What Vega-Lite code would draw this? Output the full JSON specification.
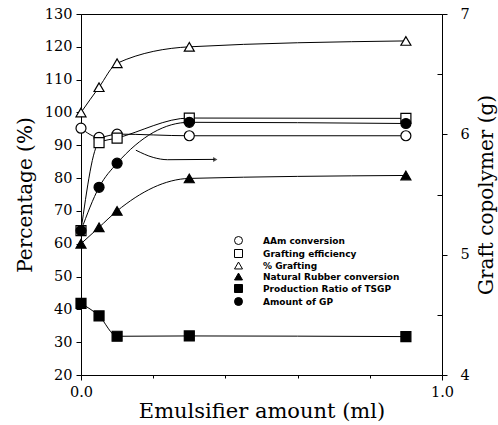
{
  "$schema": "https://vega.github.io/schema/vega-lite/v6.json",
  "width": 361,
  "height": 361,
  "autosize": "none",
  "padding": {"left": 81, "top": 14, "right": 56, "bottom": 50},
  "background": "white",
  "config": {
    "view": {"stroke": "black", "strokeWidth": 1},
    "axis": {
      "domainColor": "black", "tickColor": "black", "labelColor": "black", "titleColor": "black",
      "labelFont": "DejaVu Serif", "titleFont": "DejaVu Serif", "labelFontSize": 14.5, "titleFontSize": 20,
      "titleFontWeight": "normal", "grid": false, "domainWidth": 1, "tickWidth": 1
    },
    "legend": {
      "title": null, "orient": "none", "legendX": 153, "legendY": 222,
      "symbolSize": 64, "labelOffset": 20, "labelFont": "DejaVu Sans", "labelFontSize": 9, "labelFontWeight": "bold", "labelColor": "black",
      "rowPadding": 0, "symbolStrokeWidth": 1
    }
  },
  "datasets": {
    "main": [
      {"x": 0, "v": 95.2, "series": "AAm conversion"},
      {"x": 0.05, "v": 92.4, "series": "AAm conversion"},
      {"x": 0.1, "v": 93.4, "series": "AAm conversion"},
      {"x": 0.3, "v": 92.9, "series": "AAm conversion"},
      {"x": 0.9, "v": 92.9, "series": "AAm conversion"},
      {"x": 0, "v": 64, "series": "Grafting efficiency"},
      {"x": 0.05, "v": 90.8, "series": "Grafting efficiency"},
      {"x": 0.1, "v": 92.2, "series": "Grafting efficiency"},
      {"x": 0.3, "v": 98.3, "series": "Grafting efficiency"},
      {"x": 0.9, "v": 98.2, "series": "Grafting efficiency"},
      {"x": 0, "v": 100, "series": "% Grafting"},
      {"x": 0.05, "v": 107.7, "series": "% Grafting"},
      {"x": 0.1, "v": 115, "series": "% Grafting"},
      {"x": 0.3, "v": 120, "series": "% Grafting"},
      {"x": 0.9, "v": 121.8, "series": "% Grafting"},
      {"x": 0, "v": 60, "series": "Natural Rubber conversion"},
      {"x": 0.05, "v": 65, "series": "Natural Rubber conversion"},
      {"x": 0.1, "v": 70, "series": "Natural Rubber conversion"},
      {"x": 0.3, "v": 79.9, "series": "Natural Rubber conversion"},
      {"x": 0.9, "v": 80.8, "series": "Natural Rubber conversion"},
      {"x": 0, "v": 41.8, "series": "Production Ratio of TSGP"},
      {"x": 0.05, "v": 38, "series": "Production Ratio of TSGP"},
      {"x": 0.1, "v": 31.8, "series": "Production Ratio of TSGP"},
      {"x": 0.3, "v": 31.9, "series": "Production Ratio of TSGP"},
      {"x": 0.9, "v": 31.7, "series": "Production Ratio of TSGP"}
    ],
    "gp": [
      {"x": 0, "g": 5.2, "series": "Amount of GP"},
      {"x": 0.05, "g": 5.56, "series": "Amount of GP"},
      {"x": 0.1, "g": 5.76, "series": "Amount of GP"},
      {"x": 0.3, "g": 6.1, "series": "Amount of GP"},
      {"x": 0.9, "g": 6.09, "series": "Amount of GP"}
    ],
    "arrow": [
      {"x": 0.152, "v": 88.5},
      {"x": 0.2, "v": 86.3},
      {"x": 0.24, "v": 85.6},
      {"x": 0.37, "v": 85.7}
    ],
    "arrowhead": [
      {"x": 0.372, "v": 85.7}
    ]
  },
  "layer": [
    {
      "encoding": {
        "x": {
          "field": "x", "type": "quantitative", "scale": {"domain": [0, 1]},
          "axis": {
            "title": "Emulsifier amount (ml)",
            "titleFontSize": 21,
            "values": [0, 0.1, 0.2, 0.3, 0.4, 0.5, 0.6, 0.7, 0.8, 0.9, 1.0],
            "labelExpr": "datum.value % 0.5 == 0 ? format(datum.value, '.1f') : ''",
            "labelFlush": false,
            "labelPadding": 5,
            "tickSize": {"condition": {"test": "datum.value % 0.5 != 0", "value": 3}, "value": 5},
            "titlePadding": 2
          }
        },
        "y": {
          "field": "v", "type": "quantitative", "scale": {"domain": [20, 130]},
          "axis": {
            "title": "Percentage (%)",
            "values": [20, 30, 40, 50, 60, 70, 80, 90, 100, 110, 120, 130],
            "tickSize": 5, "labelPadding": 4, "titlePadding": 9
          }
        }
      },
      "layer": [
        {
          "data": {"name": "main"},
          "mark": {"type": "line", "interpolate": "monotone", "color": "black", "strokeWidth": 1},
          "encoding": {"detail": {"field": "series"}}
        },
        {
          "data": {"name": "arrow"},
          "mark": {"type": "line", "interpolate": "monotone", "color": "black", "strokeWidth": 1},
          "encoding": {}
        },
        {
          "data": {"name": "arrowhead"},
          "mark": {"type": "point", "shape": "triangle-right", "filled": true, "color": "black", "size": 25},
          "encoding": {}
        },
        {
          "data": {"name": "main"},
          "mark": {"type": "point", "strokeWidth": 1.2, "opacity": 1, "size": 100},
          "encoding": {
            "stroke": {"field": "series", "type": "nominal",
              "scale": {"domain": ["AAm conversion", "Grafting efficiency", "% Grafting", "Natural Rubber conversion", "Production Ratio of TSGP", "Amount of GP"],
                        "range": ["black", "black", "black", "black", "black", "black"]}},
            "shape": {"field": "series", "type": "nominal",
              "scale": {"domain": ["AAm conversion", "Grafting efficiency", "% Grafting", "Natural Rubber conversion", "Production Ratio of TSGP", "Amount of GP"],
                        "range": ["circle", "square", "triangle-up", "triangle-up", "square", "circle"]}},
            "fill": {"field": "series", "type": "nominal",
              "scale": {"domain": ["AAm conversion", "Grafting efficiency", "% Grafting", "Natural Rubber conversion", "Production Ratio of TSGP", "Amount of GP"],
                        "range": ["white", "white", "white", "black", "black", "black"]}}
          }
        }
      ]
    },
    {
      "data": {"name": "gp"},
      "encoding": {
        "x": {"field": "x", "type": "quantitative", "scale": {"domain": [0, 1]}},
        "y": {
          "field": "g", "type": "quantitative", "scale": {"domain": [4, 7]},
          "axis": {
            "orient": "right", "title": "Graft copolymer (g)", "titleAngle": 270, "titleBaseline": "top",
            "values": [4, 4.5, 5, 5.5, 6, 6.5, 7],
            "labelExpr": "datum.value % 1 == 0 ? format(datum.value, 'd') : ''",
            "tickSize": {"condition": {"test": "datum.value % 1 != 0", "value": -5}, "value": 5},
            "labelPadding": 13, "titlePadding": 7
          }
        }
      },
      "layer": [
        {
          "mark": {"type": "line", "interpolate": "monotone", "color": "black", "strokeWidth": 1},
          "encoding": {}
        },
        {
          "mark": {"type": "point", "strokeWidth": 1.2, "opacity": 1, "size": 100},
          "encoding": {
            "stroke": {"field": "series", "type": "nominal",
              "scale": {"domain": ["AAm conversion", "Grafting efficiency", "% Grafting", "Natural Rubber conversion", "Production Ratio of TSGP", "Amount of GP"],
                        "range": ["black", "black", "black", "black", "black", "black"]}},
            "shape": {"field": "series", "type": "nominal",
              "scale": {"domain": ["AAm conversion", "Grafting efficiency", "% Grafting", "Natural Rubber conversion", "Production Ratio of TSGP", "Amount of GP"],
                        "range": ["circle", "square", "triangle-up", "triangle-up", "square", "circle"]}},
            "fill": {"field": "series", "type": "nominal",
              "scale": {"domain": ["AAm conversion", "Grafting efficiency", "% Grafting", "Natural Rubber conversion", "Production Ratio of TSGP", "Amount of GP"],
                        "range": ["white", "white", "white", "black", "black", "black"]}}
          }
        }
      ]
    }
  ],
  "resolve": {"scale": {"y": "independent"}}
}
